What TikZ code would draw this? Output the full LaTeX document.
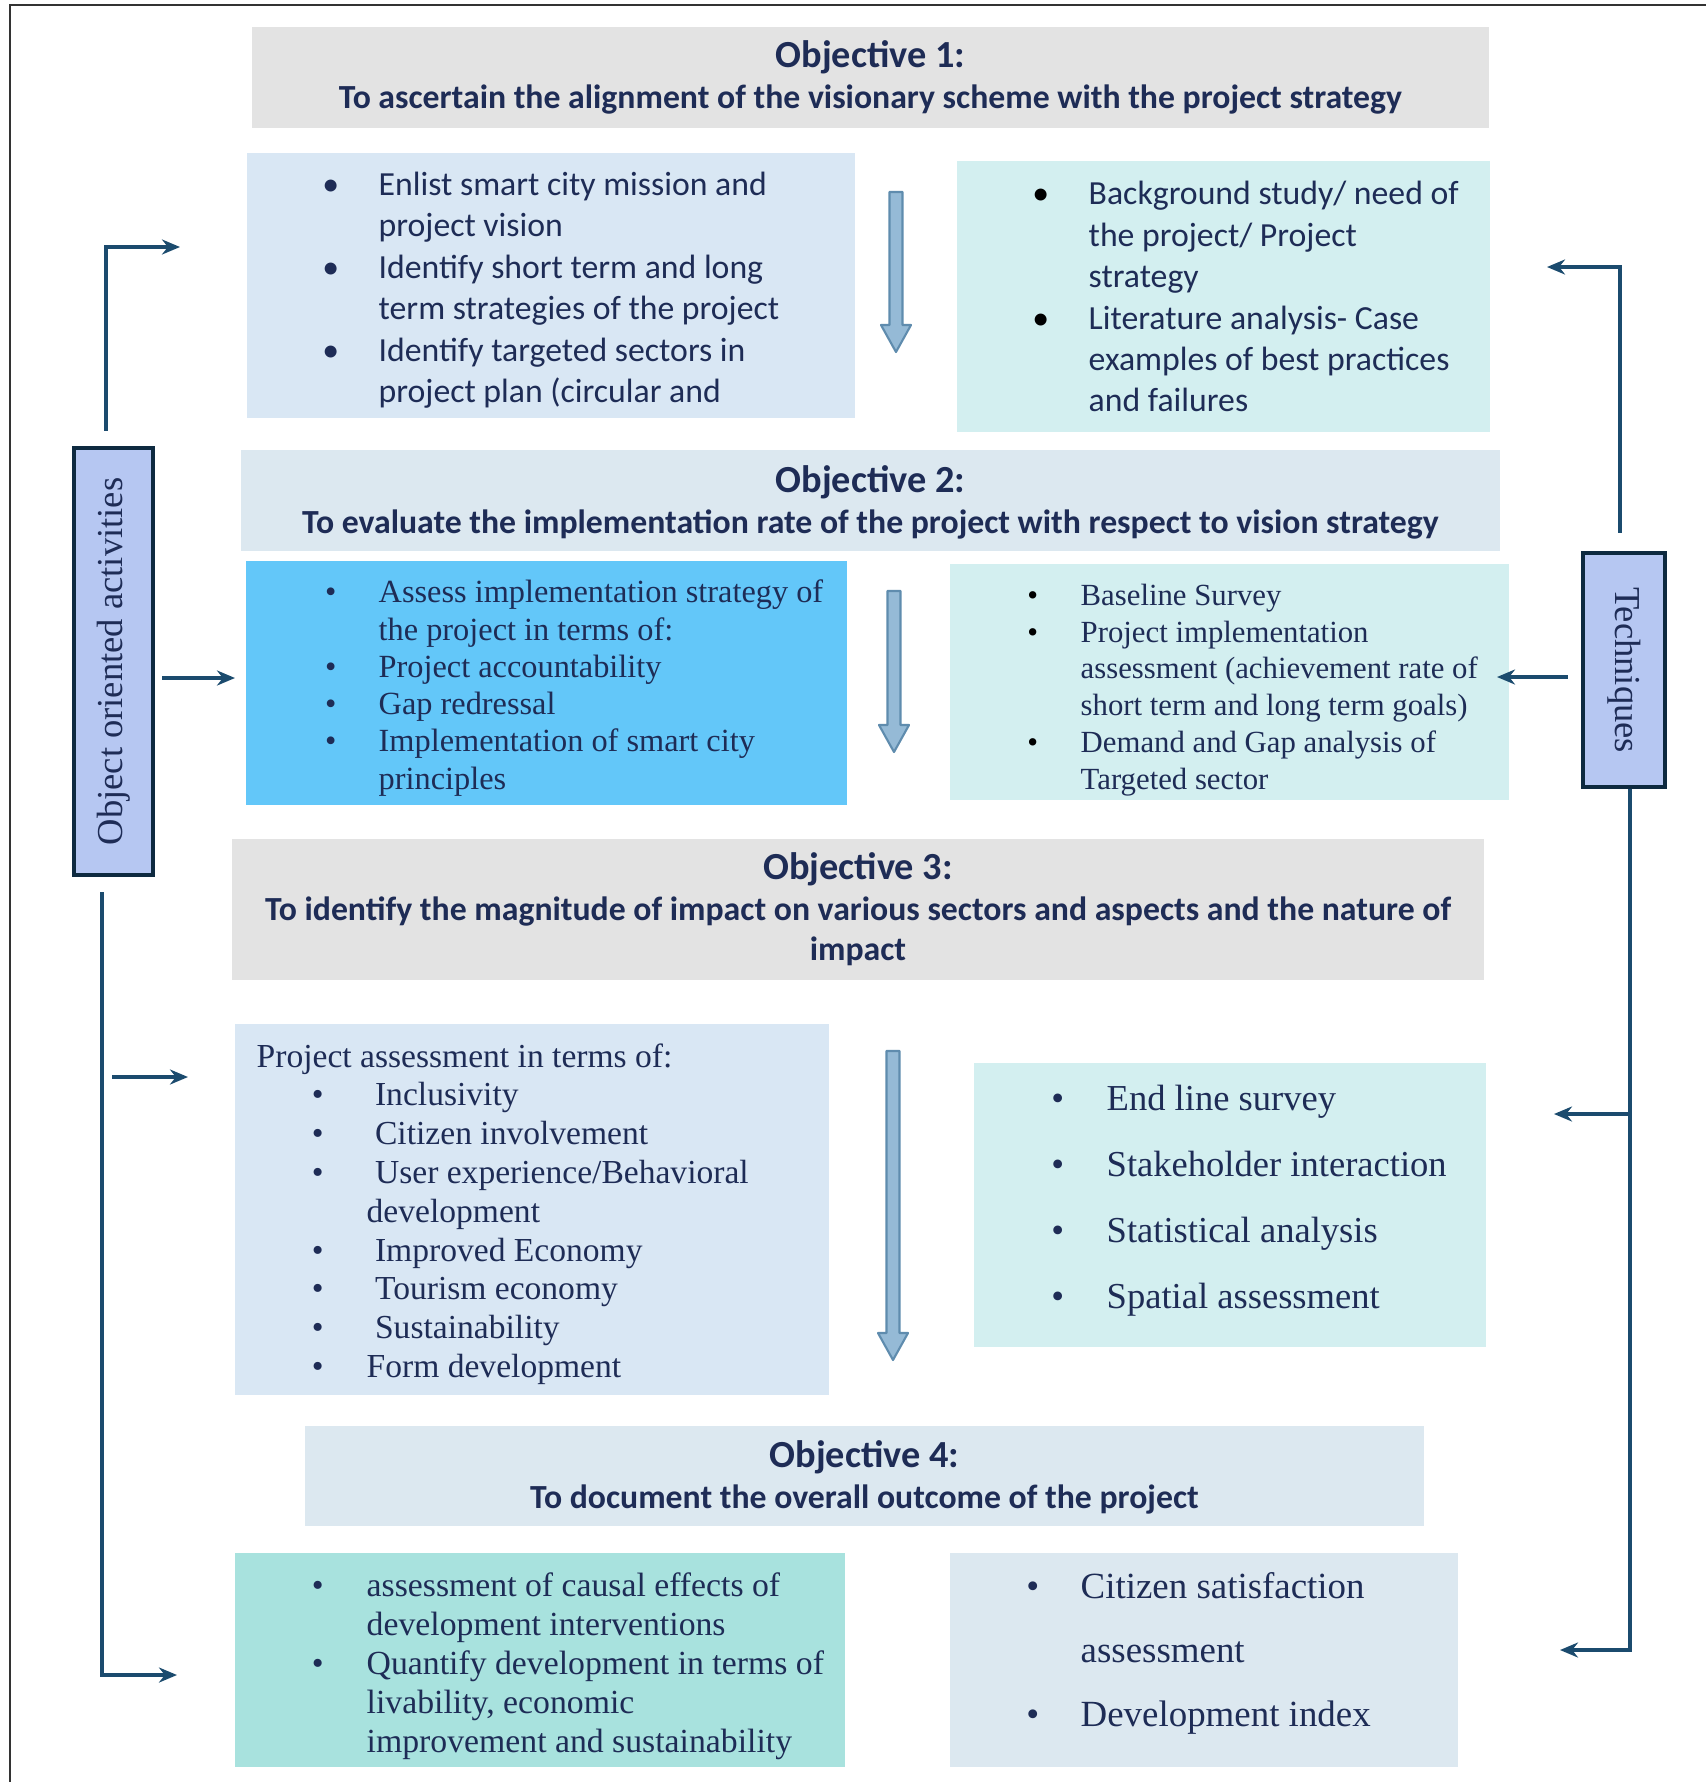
\documentclass[tikz,border=0pt]{standalone}
\usepackage{fontspec}
\setmainfont{Liberation Serif}
\newfontfamily\calfont{Carlito}
\usepackage{graphicx}
\usetikzlibrary{arrows.meta, fit}

\definecolor{ink}{HTML}{1E2C56}
\definecolor{objgray}{HTML}{E3E3E3}
\definecolor{objblue}{HTML}{DCE8F0}
\definecolor{boxblue}{HTML}{D9E7F4}
\definecolor{boxcyan}{HTML}{D3EFF0}
\definecolor{boxsky}{HTML}{63C7F9}
\definecolor{boxteal}{HTML}{A8E2DE}
\definecolor{sidefill}{HTML}{B6C7F2}
\definecolor{sidedraw}{HTML}{0E2A40}
\definecolor{linkcol}{HTML}{1B4B6E}
\definecolor{arrfill}{HTML}{95BAD6}
\definecolor{arredge}{HTML}{5F8CAE}

\newcommand{\bul}{\makebox[0pt]{\textbullet}}
\newcommand{\bulk}{\makebox[0pt]{\color{black}\textbullet}}

\begin{document}
\begin{tikzpicture}[x=0.1mm, y=-0.1mm,
  cbox/.style={inner sep=0pt, outer sep=0pt},
  objtext/.style={inner sep=0pt, align=center, text=ink, font=\calfont\bfseries\fontsize{9.6}{11.5}\selectfont},
  sidebox/.style={draw=sidedraw, line width=1.2pt, fill=sidefill, inner sep=0pt, text=ink, font=\fontsize{10.4}{12}\selectfont},
  link/.style={draw=linkcol, line width=1.1pt, -{Stealth[length=1.8mm, width=1.5mm]}},
  list/.style={anchor=west, inner sep=0pt, text=ink},
  downarr/.style={fill=arrfill, draw=arredge, line width=0.6pt, line join=round}
]
\useasboundingbox (0,0) rectangle (1706,1782);
\fill[white] (0,0) rectangle (1706,1782);
\draw[black!80, line width=0.6pt] (10,1782) -- (10,5) -- (1706,5);

% objectives
\node[cbox, fill=objgray, fit={(252,27) (1489,128)}] (o1) {};
\node[cbox, fill=objblue, fit={(241,450) (1500,551)}] (o2) {};
\node[cbox, fill=objgray, fit={(232,839) (1484,980)}] (o3) {};
\node[cbox, fill=objblue, fit={(305,1426) (1424,1526)}] (o4) {};
\node[objtext] (o1t) at (o1.center)
  {{\fontsize{10.9}{11.5}\selectfont Objective 1:}\\
   To ascertain the alignment of the visionary scheme with the project strategy};
\node[objtext] (o2t) at ([yshift=-0.2mm]o2.center)
  {{\fontsize{10.9}{11.5}\selectfont Objective 2:}\\
   To evaluate the implementation rate of the project with respect to vision strategy};
\node[objtext] (o3t) at (o3.center)
  {{\fontsize{10.9}{11.5}\selectfont Objective 3:}\\
   To identify the magnitude of impact on various sectors and aspects and the nature of\\
   impact};
\node[objtext] (o4t) at ([yshift=-0.15mm]o4.center)
  {{\fontsize{10.9}{11.5}\selectfont Objective 4:}\\
   To document the overall outcome of the project};

% content boxes
\node[cbox, fill=boxblue, fit={(247,153) (855,418)}] (b1l) {};
\node[cbox, fill=boxcyan, fit={(957,161) (1490,432)}] (b1r) {};
\node[cbox, fill=boxsky, fit={(246,561) (847,805)}] (b2l) {};
\node[cbox, fill=boxcyan, fit={(950,564) (1509,800)}] (b2r) {};
\node[cbox, fill=boxblue, fit={(235,1024) (829,1395)}] (b3l) {};
\node[cbox, fill=boxcyan, fit={(974,1063) (1486,1347)}] (b3r) {};
\node[cbox, fill=boxteal, fit={(235,1553) (845,1767)}] (b4l) {};
\node[cbox, fill=objblue, fit={(950,1553) (1458,1767)}] (b4r) {};

\node[list, font=\calfont\fontsize{9.6}{11.8}\selectfont] (t1l) at (330,290.5) {%
\begin{tabular}{@{}l@{\hspace{13.66pt}}l@{}}
\bul & Enlist smart city mission and\\
     & project vision\\
\bul & Identify short term and long\\
     & term strategies of the project\\
\bul & Identify targeted sectors in\\
     & project plan (circular and
\end{tabular}};
\node[list, font=\calfont\fontsize{9.6}{11.8}\selectfont] (t1r) at (1040,300) {%
\begin{tabular}{@{}l@{\hspace{13.66pt}}l@{}}
\bulk & Background study/ need of\\
      & the project/ Project\\
      & strategy\\
\bulk & Literature analysis- Case\\
      & examples of best practices\\
      & and failures
\end{tabular}};
\node[list, font=\fontsize{9.2}{10.6}\selectfont] (t2l) at (330,688.5) {%
\begin{tabular}{@{}l@{\hspace{13.66pt}}l@{}}
\bul & Assess implementation strategy of\\
     & the project in terms of:\\
\bul & Project accountability\\
\bul & Gap redressal\\
\bul & Implementation of smart city\\
     & principles
\end{tabular}};
\node[list, font=\fontsize{8.75}{10.45}\selectfont] (t2r) at (1032,690) {%
\begin{tabular}{@{}l@{\hspace{13.66pt}}l@{}}
\bulk & Baseline Survey\\
\bulk & Project implementation\\
      & assessment (achievement rate of\\
      & short term and long term goals)\\
\bulk & Demand and Gap analysis of\\
      & Targeted sector
\end{tabular}};
\node[list, font=\fontsize{9.55}{11.04}\selectfont] (t3l) at (317,1214.5) {%
\begin{tabular}{@{}l@{\hspace{13.94pt}}l@{}}
\multicolumn{2}{@{\hspace{-17.36pt}}l@{}}{Project assessment in terms of:}\\
\bul & \ Inclusivity\\
\bul & \ Citizen involvement\\
\bul & \ User experience/Behavioral\\
     & development\\
\bul & \ Improved Economy\\
\bul & \ Tourism economy\\
\bul & \ Sustainability\\
\bul & Form development
\end{tabular}};
\node[list, font=\fontsize{10.4}{18.8}\selectfont] (t3r) at (1057,1196) {%
\begin{tabular}{@{}l@{\hspace{13.94pt}}l@{}}
\bul & End line survey\\
\bul & Stakeholder interaction\\
\bul & Statistical analysis\\
\bul & Spatial assessment
\end{tabular}};
\node[list, font=\fontsize{9.6}{11.1}\selectfont] (t4l) at (317,1666.5) {%
\begin{tabular}{@{}l@{\hspace{13.94pt}}l@{}}
\bul & assessment of causal effects of\\
     & development interventions\\
\bul & Quantify development in terms of\\
     & livability, economic\\
     & improvement and sustainability
\end{tabular}};
\node[list, font=\fontsize{10.5}{18.2}\selectfont] (t4r) at (1032,1650) {%
\begin{tabular}{@{}l@{\hspace{13.66pt}}l@{}}
\bul & Citizen satisfaction\\
     & assessment\\
\bul & Development index
\end{tabular}};

% down arrows between the columns
\foreach \ax/\ya/\yb in {896/192/352, 894/591/752, 893/1051/1360}
  \draw[downarr] (\ax-6.5,\ya) -- (\ax+6.5,\ya) -- (\ax+6.5,\yb-27) -- (\ax+15,\yb-27)
    -- (\ax,\yb) -- (\ax-15,\yb-27) -- (\ax-6.5,\yb-27) -- cycle;

% side boxes
\node[sidebox, minimum width=7.9mm, minimum height=42.7mm] (obj) at (113.5,661.5)
  {\rotatebox{90}{Object oriented activities}};
\node[sidebox, minimum width=8.2mm, minimum height=23.4mm] (tech) at (1624,670)
  {\rotatebox{-90}{Techniques}};

% left connectors
\coordinate (a1) at (180,247);
\coordinate (a2) at (235,678);
\coordinate (a3s) at (112,1077);
\coordinate (a3) at (188,1077);
\coordinate (a4) at (177,1675);
\draw[link] ([xshift=-0.75mm,yshift=1.5mm]obj.north) |- (a1);
\draw[link] ([xshift=0.7mm,yshift=-1.65mm]obj.east) -- (a2);
\draw[link] (a3s) -- (a3);
\draw[link] ([xshift=-1.15mm,yshift=-1.5mm]obj.south) |- (a4);

% right connectors
\coordinate (r1) at (1547,267);
\coordinate (r2) at (1497,677);
\coordinate (r3s) at (1630,1114);
\coordinate (r3) at (1554,1114);
\coordinate (r4) at (1560,1650);
\draw[link] ([xshift=-0.4mm,yshift=1.8mm]tech.north) |- (r1);
\draw[link] ([xshift=-1.3mm,yshift=-0.7mm]tech.west) -- (r2);
\draw[link] (r3s) -- (r3);
\draw[link] ([xshift=0.6mm]tech.south) |- (r4);

\end{tikzpicture}
\end{document}
